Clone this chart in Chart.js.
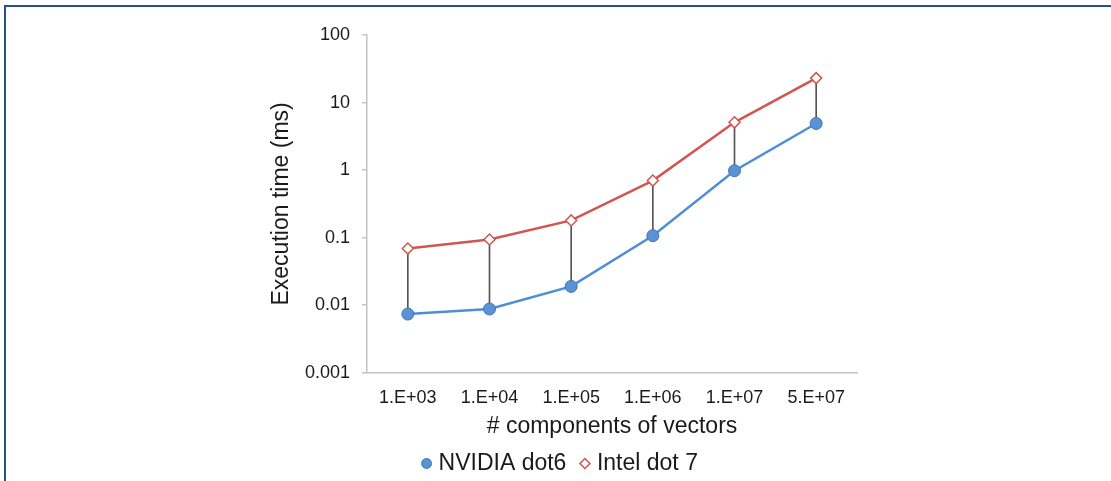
<!DOCTYPE html>
<html>
<head>
<meta charset="utf-8">
<script src="https://cdn.jsdelivr.net/npm/chart.js@4"></script>
<style>
  body { margin: 0; background: #fff; }
  #frame { position: absolute; left: 4px; top: 5px; width: 1200px; height: 600px;
           border-left: 2px solid #24508f; border-top: 2px solid #24508f; }
  #myChart { position: absolute; left: 0; top: 0; }
</style>
</head>
<body>
<div id="frame"></div>
<canvas id="myChart" width="1111" height="481"></canvas>
<script>
// values (log scale)
const categories = ['1.E+03', '1.E+04', '1.E+05', '1.E+06', '1.E+07', '5.E+07'];
const nvidiaDot6 = [0.0074, 0.0088, 0.019, 0.107, 0.98, 4.9];
const intelDot7 = [0.069, 0.094, 0.18, 0.70, 5.1, 23];
const yTicks = [0.001, 0.01, 0.1, 1, 10, 100];

const axisGray = '#c4c4c4';
const textColor = '#1a1a1a';
Chart.defaults.font.family = "'Liberation Sans', Arial, sans-serif";
Chart.defaults.color = textColor;

var ctx = document.getElementById('myChart').getContext('2d');
var chart = new Chart(ctx, {
    type: 'line',
    data: {
        labels: categories,
        datasets: [{
            label: 'NVIDIA dot6',
            data: nvidiaDot6,
            borderColor: '#4f8ed6',
            borderWidth: 2.5,
            backgroundColor: '#5b92d4',
            pointStyle: 'circle',
            pointRadius: 6,
            pointBorderColor: '#3f75bb',
            pointBorderWidth: 1,
            order: 1
        }, {
            label: 'Intel dot 7',
            data: intelDot7,
            borderColor: '#d2554f',
            borderWidth: 2.5,
            backgroundColor: '#ffffff',
            pointStyle: 'rectRot',
            pointRadius: 5.5,
            pointBorderColor: '#d2554f',
            pointBorderWidth: 1.5,
            order: 2
        }, {
            // high-low lines between the two series
            type: 'bar',
            label: 'hilo',
            data: categories.map((c, i) => [nvidiaDot6[i], intelDot7[i]]),
            backgroundColor: '#555555',
            barThickness: 1,
            order: 3
        }]
    },
    options: {
        responsive: false,
        animation: false,
        layout: { padding: { left: 267, right: 254, top: 35, bottom: -4 } },
        plugins: {
            tooltip: { enabled: false },
            legend: {
                position: 'bottom',
                labels: {
                    usePointStyle: true,
                    boxHeight: 7,
                    boxWidth: 1,
                    padding: 18,
                    font: { size: 23 },
                    color: textColor,
                    filter: item => item.text !== 'hilo'
                }
            }
        },
        scales: {
            x: {
                grid: { display: true, drawOnChartArea: false, drawTicks: false },
                border: { color: axisGray, width: 1.5 },
                ticks: { font: { size: 18 }, padding: 14, maxRotation: 0 },
                title: { display: true, text: '# components of vectors', font: { size: 23 }, padding: { top: -10, bottom: -6 } }
            },
            y: {
                type: 'logarithmic',
                min: 0.001,
                max: 100,
                afterBuildTicks: scale => { scale.ticks = yTicks.map(v => ({ value: v })); },
                afterFit: scale => { scale.width = 100; },
                grid: { drawOnChartArea: false, drawTicks: true, tickLength: 5, color: axisGray, lineWidth: 1.5 },
                border: { color: axisGray, width: 1.5 },
                ticks: { font: { size: 18 }, padding: 12, callback: v => String(v) },
                title: { display: true, text: 'Execution time (ms)', font: { size: 23 }, padding: { top: 1, bottom: 0 } }
            }
        }
    }
});
</script>
</body>
</html>
